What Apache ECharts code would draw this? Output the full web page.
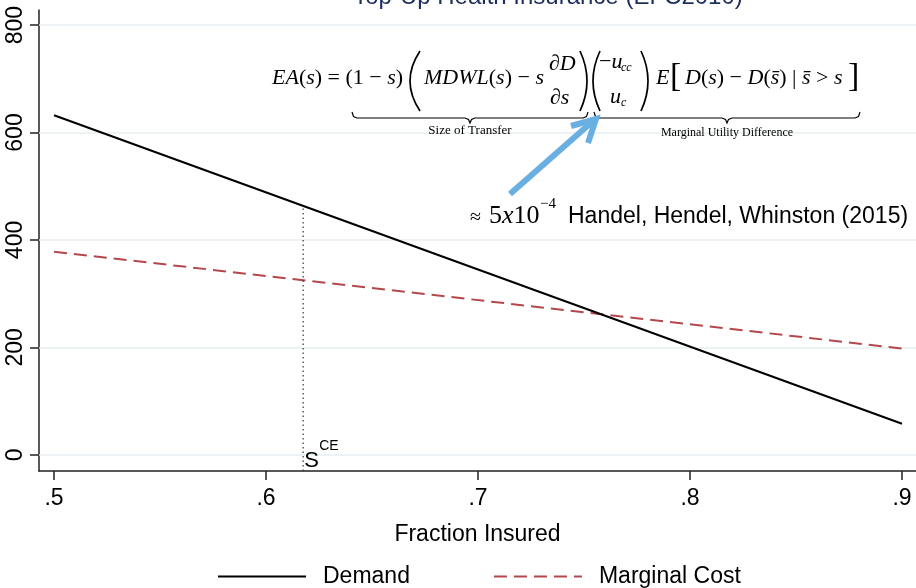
<!DOCTYPE html>
<html>
<head>
<meta charset="utf-8">
<script src="https://cdn.jsdelivr.net/npm/echarts@6/dist/echarts.min.js"></script>
<style>
html,body{margin:0;padding:0;background:#fff;}
#chart{width:916px;height:588px;}
</style>
</head>
<body>
<div id="chart"></div>
<script>
// ---- data ----
const fractionInsured = [0.5, 0.9];
const demand = [632, 58];
const marginalCost = [378, 198];
const sCE = 0.6175;
const demandAtSCE = 463;
const xTicks = [0.5, 0.6, 0.7, 0.8, 0.9];
const xTickLabels = ['.5', '.6', '.7', '.8', '.9'];
const yTicks = [0, 200, 400, 600, 800];
const yTickLabels = ['0', '200', '400', '600', '800'];
const seriesNames = ['Demand', 'Marginal Cost'];
const titleText = 'Top-Up Health Insurance (EFC2010)';
const xAxisTitle = 'Fraction Insured';
const noteText = 'Handel, Hendel, Whinston (2015)';

const X_MIN = 0.4929, X_MAX = 0.9066, Y_MIN = -30, Y_MAX = 828;
const SANS = '"Liberation Sans", Arial, sans-serif';
const SERIF = '"Liberation Serif", "Times New Roman", serif';

const chart = echarts.init(document.getElementById('chart'), null, {renderer: 'canvas'});

function lab(ticks, labels) {
  return v => {
    for (let i = 0; i < ticks.length; i++) if (Math.abs(ticks[i] - v) < 1e-6) return labels[i];
    return '';
  };
}

const option = {
  animation: false,
  backgroundColor: '#fff',
  grid: {left: 39, right: 0, top: 10, bottom: 117, containLabel: false},
  xAxis: {
    type: 'value', min: X_MIN, max: X_MAX,
    name: xAxisTitle, nameLocation: 'middle', nameGap: 52,
    nameTextStyle: {fontFamily: SANS, fontSize: 23, color: '#000'},
    axisLine: {show: true, onZero: false, lineStyle: {color: '#222', width: 1.5}},
    axisTick: {show: true, customValues: xTicks, length: 9, lineStyle: {color: '#222', width: 1.5}},
    axisLabel: {customValues: xTicks, formatter: lab(xTicks, xTickLabels), fontFamily: SANS, fontSize: 23, color: '#000', margin: 16},
    splitLine: {show: false}
  },
  yAxis: {
    type: 'value', min: Y_MIN, max: Y_MAX,
    axisLine: {show: true, onZero: false, lineStyle: {color: '#222', width: 1.5}},
    axisTick: {show: true, customValues: yTicks, length: 9, lineStyle: {color: '#222', width: 1.5}},
    axisLabel: {customValues: yTicks, formatter: lab(yTicks, yTickLabels), rotate: 90, fontFamily: SANS, fontSize: 23, color: '#000', margin: 12},
    splitLine: {show: false}
  },
  legend: {
    data: seriesNames,
    left: 212, top: 560,
    itemWidth: 88, itemHeight: 14, itemGap: 83,
    itemStyle: {opacity: 0},
    textStyle: {fontFamily: SANS, fontSize: 23, color: '#000', padding: [0, 0, 0, 12]}
  },
  series: [
    {
      name: 'grid', type: 'line', data: [], silent: true, z: 1,
      markLine: {
        silent: true, symbol: 'none', z: 1, animation: false,
        label: {show: false},
        lineStyle: {color: '#e7eff0', type: 'solid', width: 1.5},
        data: yTicks.map(v => ({yAxis: v}))
      }
    },
    {
      name: seriesNames[0], type: 'line', symbol: 'none', z: 4,
      data: fractionInsured.map((x, i) => [x, demand[i]]),
      lineStyle: {color: '#000', width: 2}, itemStyle: {color: '#000'}
    },
    {
      name: seriesNames[1], type: 'line', symbol: 'none', z: 3,
      data: fractionInsured.map((x, i) => [x, marginalCost[i]]),
      lineStyle: {color: '#b4474b', width: 2, type: [13, 7]}, itemStyle: {color: '#b4474b'}
    },
    {
      name: 'sce', type: 'line', symbol: 'none', z: 3, silent: true,
      data: [[sCE, Y_MIN], [sCE, demandAtSCE]],
      lineStyle: {color: '#333', width: 1.2, type: [1.5, 3]}
    }
  ]
};
chart.setOption(option);

// ---- annotations ----
const p0 = chart.convertToPixel({gridIndex: 0}, [sCE, 0]);

function T(x, y, text, size, extra) {
  const st = Object.assign({text: text, fontSize: size, fontFamily: SERIF, fill: '#000', textAlign: 'left', textVerticalAlign: 'middle'}, extra || {});
  return {type: 'text', x: x, y: y, silent: true, style: st, z: 20};
}
const rich = (size) => ({
  i: {fontFamily: SERIF, fontStyle: 'italic', fontSize: size},
  n: {fontFamily: SERIF, fontSize: size}
});
function paren(xEnd, xCtrl, y1, y2) {
  return {type: 'bezierCurve', silent: true, z: 20,
    shape: {x1: xEnd, y1: y1, x2: xEnd, y2: y2, cpx1: xCtrl, cpy1: (y1 + y2) / 2},
    style: {stroke: '#000', lineWidth: 1.7, fill: null}};
}
function brace(x1, x2, y0, y1, y2) {
  const xm = (x1 + x2) / 2;
  return {type: 'polyline', silent: true, z: 20,
    shape: {points: [[x1, y0], [x1 + 1.5, y1 - 1.5], [x1 + 5, y1], [xm - 5, y1], [xm - 1.5, y1 + 1.5], [xm, y2], [xm + 1.5, y1 + 1.5], [xm + 5, y1], [x2 - 5, y1], [x2 - 1.5, y1 - 1.5], [x2, y0]]},
    style: {stroke: '#000', lineWidth: 1.2, fill: null}};
}

const FS = 22;
const g = [
  // title (cut off at top)
  {type: 'text', x: 548, y: -3, silent: true, style: {text: titleText, fontFamily: SANS, fontSize: 24, fill: '#1c2d5e', textAlign: 'center', textVerticalAlign: 'middle'}},
  // formula
  T(272, 78, '{i|EA}{n|(}{i|s}{n|) = (1 − }{i|s}{n|)}', FS, {rich: rich(FS)}),
  paren(420, 400, 51, 111),
  T(424, 78, '{i|MDWL}{n|(}{i|s}{n|) − }{i|s}', FS, {rich: rich(FS)}),
  T(549, 64, '{n|∂}{i|D}', FS, {rich: rich(FS)}),
  T(550, 98, '{n|∂}{i|s}', FS, {rich: rich(FS)}),
  paren(580, 594, 51, 111),
  paren(600, 586, 51, 111),
  T(599, 62, '{n|−}{i|u}', FS, {rich: rich(FS)}),
  T(621, 68, 'cc', 12, {fontStyle: 'italic'}),
  T(610, 97, 'u', FS, {fontStyle: 'italic'}),
  T(621, 103, 'c', 12, {fontStyle: 'italic'}),
  paren(641, 655, 51, 111),
  T(656, 78, 'E', FS, {fontStyle: 'italic'}),
  T(670, 77, '[', 34),
  T(685, 78, '{i|D}{n|(}{i|s}{n|) − }{i|D}{n|(}{i|s̄}{n|) | }{i|s̄}{n| > }{i|s}', FS, {rich: rich(FS)}),
  T(848, 77, ']', 34),
  brace(352, 588, 112, 118, 123),
  brace(594, 860, 112, 118, 123),
  T(470, 131, 'Size of Transfer', 13, {textAlign: 'center'}),
  T(727, 133, 'Marginal Utility Difference', 12, {textAlign: 'center'}),
  // arrow
  {type: 'line', silent: true, z: 21, shape: {x1: 510, y1: 194, x2: 593, y2: 121}, style: {stroke: '#6aafe2', lineWidth: 6}},
  {type: 'polyline', silent: true, z: 21, shape: {points: [[571, 126], [596, 119], [588, 143]]}, style: {stroke: '#6aafe2', lineWidth: 6, fill: null, lineJoin: 'miter'}},
  // note
  T(470, 218, '≈', 20),
  T(489, 216, '{n|5}{i|x}{n|10}', 26, {rich: rich(26)}),
  T(540, 204, '−4', 15),
  T(568, 217, noteText, 23, {fontFamily: SANS}),
  // s^CE label
  T(p0[0] + 1, p0[1] + 6, 'S', 22, {fontFamily: SANS}),
  T(p0[0] + 16, p0[1] - 9, 'CE', 14, {fontFamily: SANS})
];
chart.setOption({graphic: {elements: g}});
</script>
</body>
</html>
